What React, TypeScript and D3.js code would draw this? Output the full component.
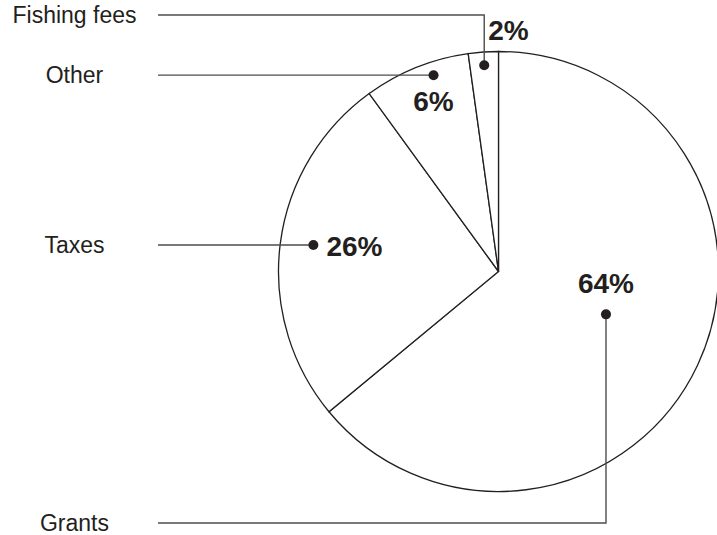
import React from "react";
import * as d3 from "d3";

const categories = ["Grants", "Taxes", "Other", "Fishing fees"];
const values = [64, 26, 7.8, 2.2];
const pctLabels = ["64%", "26%", "6%", "2%"];

const W = 717;
const H = 535;
const CX = 498.5;
const CY = 271.5;
const R = 220;
const LABEL_X = 74.5;
const LINE_X0 = 158;
// dot placement per slice: fraction of angular span, fraction of radius
const dotAngFrac = [0.485, 0.51, 0.63, 0.5];
const dotRadFrac = [0.526, 0.85, 0.94, 0.94];
// leader routing: y of horizontal label line (null = same as dot)
const leaderY: (number | null)[] = [523, null, null, 15];
// percentage text offsets relative to dot (alphabetic baseline)
const pctPlace = [
  { dx: 0, dy: -21, anchor: "middle" },
  { dx: 13, dy: 11, anchor: "start" },
  { dx: 0, dy: 36, anchor: "middle" },
  { dx: 4, dy: -25, anchor: "start" },
];

export default function App() {
  const pie = d3.pie<number>().sort(null).value((d) => d);
  const arcs = pie(values);
  const arc = d3.arc<d3.PieArcDatum<number>>().innerRadius(0).outerRadius(R);
  const ink = "#231f20";

  return (
    <svg
      width={W}
      height={H}
      style={{ position: "absolute", left: 0, top: 0, background: "#fff" }}
      fontFamily="'Liberation Sans', Arial, Helvetica, sans-serif"
    >
      <g transform={`translate(${CX},${CY})`}>
        {arcs.map((a, i) => (
          <path key={i} d={arc(a) || ""} fill="#fff" stroke={ink} strokeWidth={1.3} />
        ))}
      </g>
      {arcs.map((a, i) => {
        const ang = a.startAngle + (a.endAngle - a.startAngle) * dotAngFrac[i];
        const rr = dotRadFrac[i] * R;
        const dx = CX + Math.sin(ang) * rr;
        const dy = CY - Math.cos(ang) * rr;
        const ly = leaderY[i] == null ? dy : (leaderY[i] as number);
        const pts: [number, number][] =
          leaderY[i] == null
            ? [
                [LINE_X0, ly],
                [dx, dy],
              ]
            : [
                [LINE_X0, ly],
                [dx, ly],
                [dx, dy],
              ];
        const line = d3.line();
        const p = pctPlace[i];
        return (
          <g key={i}>
            <path d={line(pts) || ""} fill="none" stroke="#4d4d4d" strokeWidth={1.4} />
            <circle cx={dx} cy={dy} r={5} fill={ink} />
            <text
              x={LABEL_X}
              y={ly + 8}
              textAnchor="middle"
              fontSize={23}
              fill={ink}
            >
              {categories[i]}
            </text>
            <text
              x={dx + p.dx}
              y={dy + p.dy}
              textAnchor={p.anchor as any}
              fontSize={28}
              fontWeight="bold"
              fill={ink}
            >
              {pctLabels[i]}
            </text>
          </g>
        );
      })}
    </svg>
  );
}
